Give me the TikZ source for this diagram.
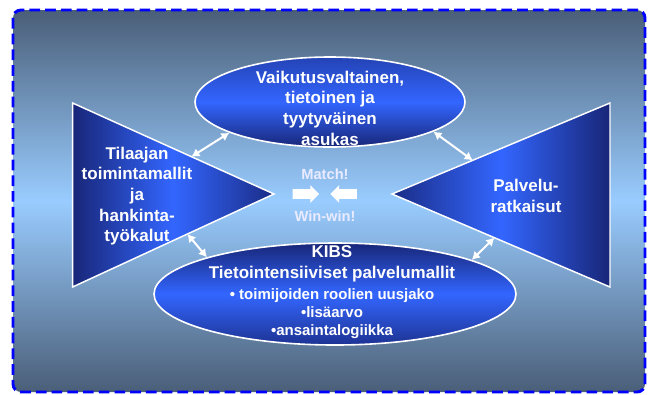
\documentclass[tikz,border=0pt]{standalone}
\usepackage{fontspec}
\setmainfont{Liberation Sans}
\usetikzlibrary{shapes.geometric,shapes.arrows,arrows.meta,calc}

\definecolor{bgdark}{RGB}{74,94,120}
\definecolor{bglight}{RGB}{153,204,255}
\definecolor{navy}{RGB}{24,38,120}
\definecolor{brightblue}{RGB}{51,102,255}
\definecolor{dashblue}{RGB}{0,0,255}

\begin{document}
\begin{tikzpicture}[x=0.75pt,y=0.75pt,yscale=-1,
  txt/.style={text=white,font=\bfseries\fontsize{12.75}{15.5}\selectfont,align=center},
  bullettxt/.style={text=white,font=\bfseries\fontsize{11.25}{13.6}\selectfont,align=center},
  matchtxt/.style={text=white!92!blue,font=\bfseries\fontsize{11}{13}\selectfont},
  dblarr/.style={draw=white,line width=1.5pt,{Latex[length=6pt,width=7pt]}-{Latex[length=6pt,width=7pt]}},
  blockarr/.style={single arrow,fill=white,draw=none,minimum height=20pt,single arrow head extend=3pt,inner sep=3.4pt}]
\useasboundingbox (0,0) rectangle (649,394);

%Shape: Rectangle (background)
\draw [draw=dashblue,line width=2.2pt,dash pattern={on 8pt off 3.8pt},rounded corners=6pt,top color=bgdark,bottom color=bgdark,middle color=bglight] (13,10) rectangle (645,392);

%Shape: Triangle left
\coordinate (LA) at (72.6,103);
\coordinate (LB) at (72.6,287);
\coordinate (LT) at (274,194);
\draw [draw=white,line width=1.1pt,left color=navy,right color=navy!90!brightblue,middle color=brightblue] (LA) -- (LB) -- (LT) -- cycle;

%Shape: Triangle right
\coordinate (RA) at (610,103);
\coordinate (RB) at (610,287);
\coordinate (RT) at (392,194);
\draw [draw=white,line width=1.1pt,left color=navy!90!brightblue,right color=navy,middle color=brightblue] (RA) -- (RB) -- (RT) -- cycle;

%Shape: Ellipse top
\node [ellipse,draw=white,line width=1.2pt,inner sep=0pt,minimum width=202.5pt,minimum height=67.5pt,top color=navy!55!brightblue,bottom color=navy,middle color=brightblue] (asukas) at (330,102) {};

%Shape: Ellipse bottom
\node [ellipse,draw=white,line width=1.2pt,inner sep=0pt,minimum width=271.5pt,minimum height=76.5pt,top color=navy,bottom color=navy!80!brightblue,middle color=brightblue] (kibs) at (335,294) {};

%Double arrows
\coordinate (tlA) at ($(LA)!0.59!(LT)$);
\coordinate (trA) at ($(RA)!0.63!(RT)$);
\coordinate (blA) at ($(LB)!0.57!(LT)$);
\coordinate (brA) at ($(RB)!0.53!(RT)$);
\draw [dblarr] (tlA) -- (asukas.197);
\draw [dblarr] (trA) -- (asukas.344);
\draw [dblarr] (blA) -- (kibs.164);
\draw [dblarr] (brA) -- (kibs.14);

%Block arrows
\node [blockarr] (matchR) at (303.5,194) {};
\node [blockarr,shape border rotate=180] (matchL) at (346,194) {};

% Text Node
\draw (330,108) node [txt] (asukastxt) {Vaikutusvaltainen,\\tietoinen ja\\tyytyväinen\\asukas};
% Text Node
\draw (137,196) node [txt] (tilaajatxt) {Tilaajan\\toimintamallit\\ja\\hankinta-\\työkalut};
% Text Node
\draw (526,196) node [txt] (palvelutxt) {Palvelu-\\ratkaisut};
% Text Node
\draw (332,264) node [txt] (kibstxt) {KIBS\\Tietointensiiviset palvelumallit};
% Text Node
\draw (332,314) node [bullettxt] (bullets) {• toimijoiden roolien uusjako\\•lisäarvo\\•ansaintalogiikka};
% Text Node
\draw (325,174) node [matchtxt] (match) {Match!};
% Text Node
\draw (325,216) node [matchtxt] (winwin) {Win-win!};

\end{tikzpicture}
\end{document}
